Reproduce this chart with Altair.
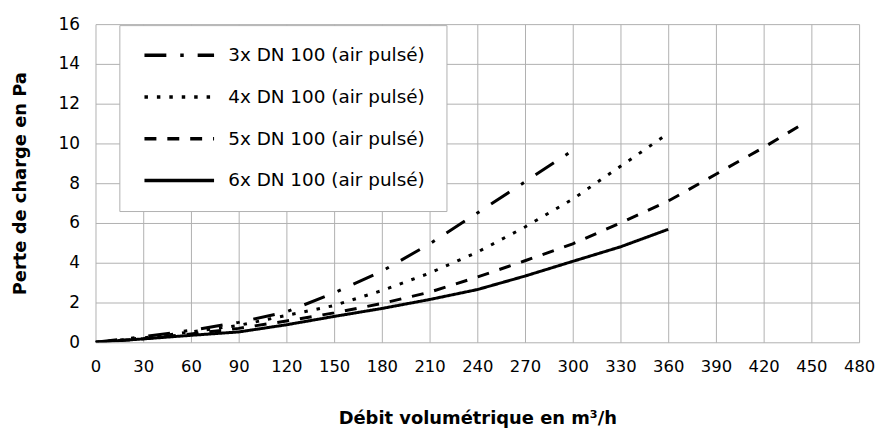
import altair as alt
import pandas as pd

series = ["3x DN 100 (air pulsé)", "4x DN 100 (air pulsé)",
          "5x DN 100 (air pulsé)", "6x DN 100 (air pulsé)"]

x_3x = [0, 30, 60, 90, 120, 150, 180, 210, 240, 270, 300]
y_3x = [0, 0.28, 0.6, 1.0, 1.53, 2.48, 3.57, 4.95, 6.5, 8.07, 9.65]

x_4x = [0, 30, 60, 90, 120, 150, 180, 210, 240, 270, 300, 330, 360]
y_4x = [0, 0.22, 0.52, 0.85, 1.35, 1.85, 2.6, 3.48, 4.53, 5.8, 7.2, 8.85, 10.5]

x_5x = [0, 30, 60, 90, 120, 150, 180, 210, 240, 270, 300, 330, 360, 390, 420, 445]
y_5x = [0, 0.18, 0.42, 0.7, 1.07, 1.48, 1.95, 2.52, 3.28, 4.1, 4.95, 6.0, 7.1, 8.45, 9.8, 11.0]

x_6x = [0, 30, 60, 90, 120, 150, 180, 210, 240, 270, 300, 330, 360]
y_6x = [0, 0.17, 0.35, 0.52, 0.88, 1.3, 1.7, 2.15, 2.65, 3.33, 4.07, 4.8, 5.68]

x_ticks = list(range(0, 481, 30))
y_ticks = list(range(0, 17, 2))

rows = []
for name, xs, ys in zip(series, [x_3x, x_4x, x_5x, x_6x], [y_3x, y_4x, y_5x, y_6x]):
    for i, (xv, yv) in enumerate(zip(xs, ys)):
        rows.append({"serie": name, "debit": xv, "perte": yv, "ordre": i})
df = pd.DataFrame(rows)

dashes = [[22, 14, 3.5, 14], [3.5, 9], [12, 11], [1, 0]]

grid_col = "#b0b0b0"
font = "DejaVu Sans"

chart = alt.Chart(df).mark_line(color="black", strokeWidth=3, clip=True).encode(
    x=alt.X("debit:Q",
            scale=alt.Scale(domain=[0, 480], nice=False, zero=True),
            axis=alt.Axis(values=x_ticks, title="Débit volumétrique en m³/h",
                          labelFont=font, labelFontSize=16.5, labelColor="black",
                          labelPadding=16, ticks=False, tickSize=0, domain=False,
                          grid=True, gridColor=grid_col, gridWidth=1,
                          labelFlush=False, labelOverlap=False,
                          titleFont=font, titleFontSize=18, titleFontWeight="bold",
                          titleColor="black", titleX=384, titleY=77,
                          titleAlign="center", titleBaseline="middle")),
    y=alt.Y("perte:Q",
            scale=alt.Scale(domain=[0, 16], nice=False, zero=True),
            axis=alt.Axis(values=y_ticks, title="Perte de charge en Pa",
                          labelFont=font, labelFontSize=17, labelColor="black",
                          labelPadding=16, ticks=False, tickSize=0, domain=False,
                          grid=True, gridColor=grid_col, gridWidth=1,
                          labelFlush=False, labelOverlap=False,
                          titleFont=font, titleFontSize=18, titleFontWeight="bold",
                          titleColor="black", titleX=-75, titleY=160, titleAngle=270,
                          titleAlign="center", titleBaseline="middle")),
    strokeDash=alt.StrokeDash("serie:N",
                              scale=alt.Scale(domain=series, range=dashes),
                              legend=alt.Legend(orient="none", legendX=24, legendY=1,
                                                title=None, fillColor="white",
                                                strokeColor=grid_col, padding=21,
                                                labelFont=font, labelFontSize=18.5,
                                                labelColor="black", labelOffset=70,
                                                labelLimit=400,
                                                symbolType="M-1,0H13", symbolSize=100,
                                                symbolStrokeWidth=3.5,
                                                symbolStrokeColor="black",
                                                rowPadding=23)),
    order="ordre:Q",
).properties(
    width=768, height=320,
    autosize=alt.AutoSizeParams(type="none"),
    padding={"left": 88, "top": 15, "right": 16, "bottom": 86},
).configure_view(stroke=None)

chart.save("out.html", embed_options={"renderer": "svg", "actions": False})
